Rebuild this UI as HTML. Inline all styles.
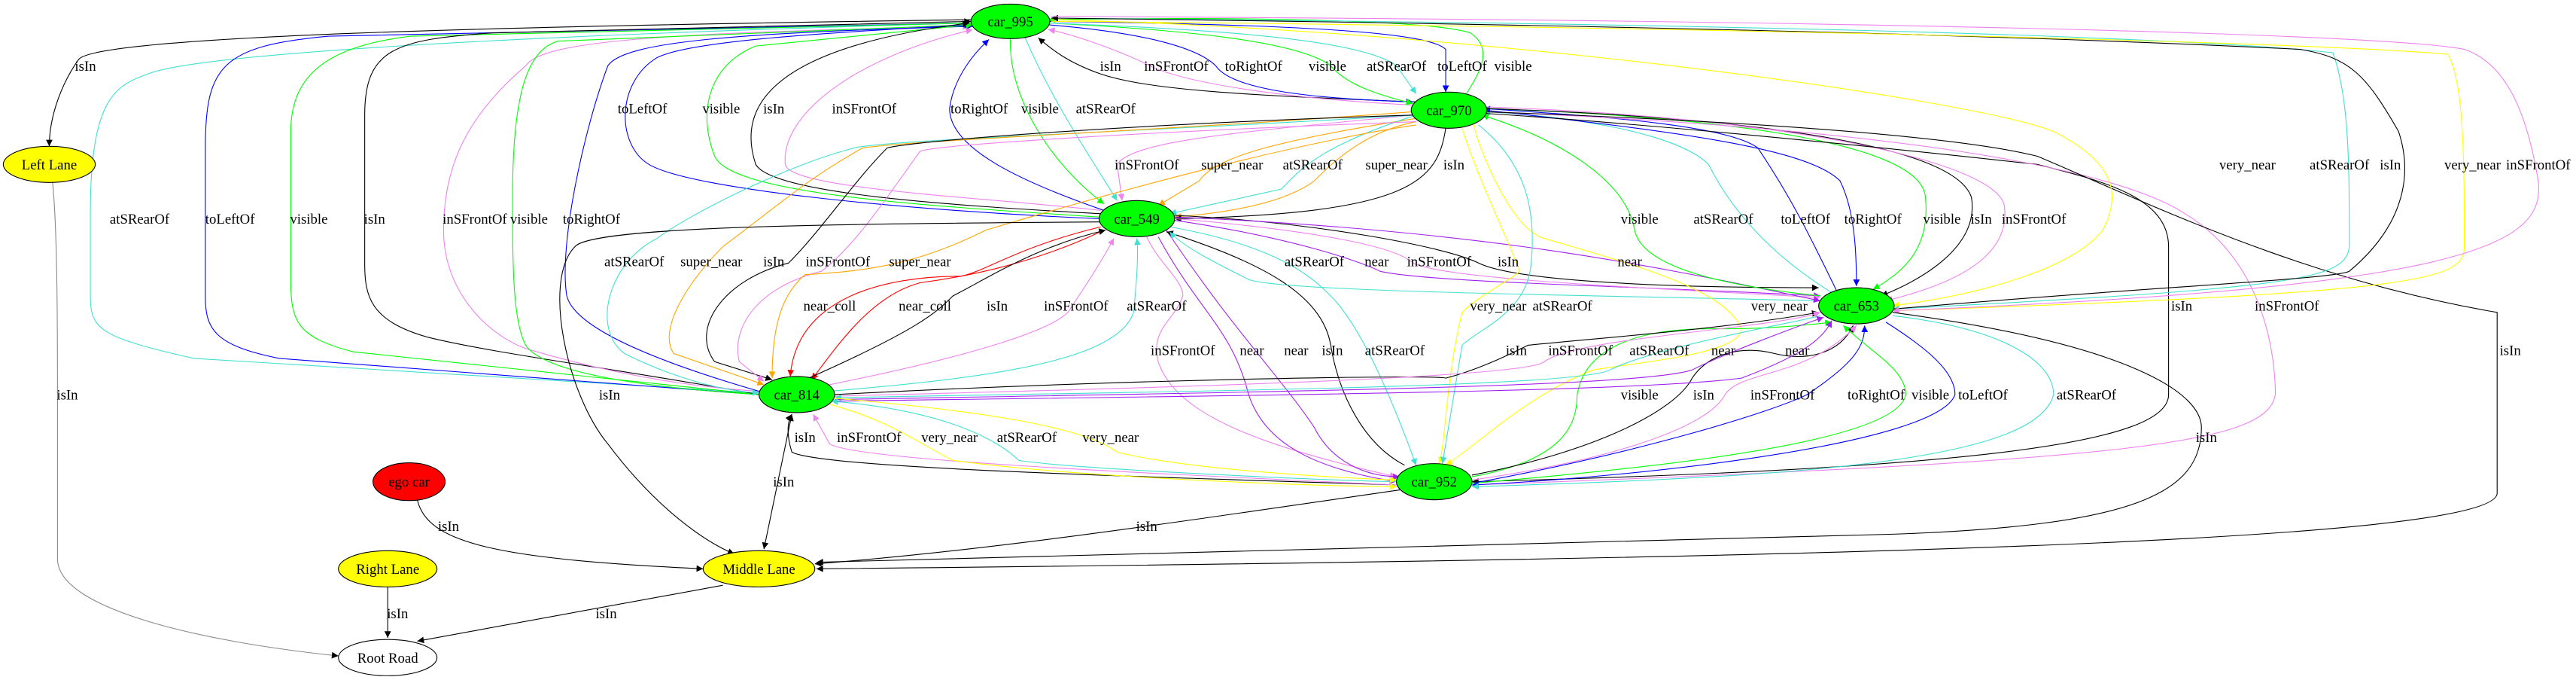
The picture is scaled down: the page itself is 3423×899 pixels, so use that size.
<!DOCTYPE html>
<html><head><meta charset="utf-8"><style>
html,body{margin:0;padding:0;background:#fff;}
svg{display:block;}
path{fill:none;stroke-width:0.5;}
.k{stroke:#000;marker-end:url(#mk)}
.c{stroke:#40e0d0;marker-end:url(#mc)}
.b{stroke:#0000ff;marker-end:url(#mb)}
.g{stroke:#00ff00;marker-end:url(#mg)}
.v{stroke:#ee82ee;marker-end:url(#mv)}
.o{stroke:#ffa500;marker-end:url(#mo)}
.p{stroke:#a020f0;marker-end:url(#mp)}
.y{stroke:#ffff00;marker-end:url(#my)}
.r{stroke:#ff0000;marker-end:url(#mr)}
text{font-family:"Liberation Serif",serif;font-size:8.6px;text-anchor:middle;fill:#000;}
ellipse{stroke:#000;stroke-width:0.5;}
</style></head><body>
<svg width="3423" height="899" viewBox="0 0 1568 411.8" preserveAspectRatio="none" xmlns="http://www.w3.org/2000/svg">
<defs>
<marker id="mk" viewBox="0 0 10 10" refX="10" refY="5" markerWidth="5" markerHeight="4" markerUnits="userSpaceOnUse" orient="auto"><path d="M0,0L10,5L0,10z" style="fill:#000;stroke:none"/></marker>
<marker id="mc" viewBox="0 0 10 10" refX="10" refY="5" markerWidth="5" markerHeight="4" markerUnits="userSpaceOnUse" orient="auto"><path d="M0,0L10,5L0,10z" style="fill:#40e0d0;stroke:none"/></marker>
<marker id="mb" viewBox="0 0 10 10" refX="10" refY="5" markerWidth="5" markerHeight="4" markerUnits="userSpaceOnUse" orient="auto"><path d="M0,0L10,5L0,10z" style="fill:#0000ff;stroke:none"/></marker>
<marker id="mg" viewBox="0 0 10 10" refX="10" refY="5" markerWidth="5" markerHeight="4" markerUnits="userSpaceOnUse" orient="auto"><path d="M0,0L10,5L0,10z" style="fill:#00ff00;stroke:none"/></marker>
<marker id="mv" viewBox="0 0 10 10" refX="10" refY="5" markerWidth="5" markerHeight="4" markerUnits="userSpaceOnUse" orient="auto"><path d="M0,0L10,5L0,10z" style="fill:#ee82ee;stroke:none"/></marker>
<marker id="mo" viewBox="0 0 10 10" refX="10" refY="5" markerWidth="5" markerHeight="4" markerUnits="userSpaceOnUse" orient="auto"><path d="M0,0L10,5L0,10z" style="fill:#ffa500;stroke:none"/></marker>
<marker id="mp" viewBox="0 0 10 10" refX="10" refY="5" markerWidth="5" markerHeight="4" markerUnits="userSpaceOnUse" orient="auto"><path d="M0,0L10,5L0,10z" style="fill:#a020f0;stroke:none"/></marker>
<marker id="my" viewBox="0 0 10 10" refX="10" refY="5" markerWidth="5" markerHeight="4" markerUnits="userSpaceOnUse" orient="auto"><path d="M0,0L10,5L0,10z" style="fill:#ffff00;stroke:none"/></marker>
<marker id="mr" viewBox="0 0 10 10" refX="10" refY="5" markerWidth="5" markerHeight="4" markerUnits="userSpaceOnUse" orient="auto"><path d="M0,0L10,5L0,10z" style="fill:#ff0000;stroke:none"/></marker>
<marker id="mks" viewBox="0 0 10 10" refX="0" refY="5" markerWidth="5" markerHeight="4" markerUnits="userSpaceOnUse" orient="auto"><path d="M10,0L0,5L10,10z" style="fill:#000;stroke:none"/></marker>
</defs>

<!-- Left lane / root -->
<path class="k" d="M591,12 C300,16 60,22 48,36 C38,50 30,70 30,89"/>
<path class="k" style="stroke:#888" d="M32,111 C35,140 35,200 35,250 L35,340 C35,370 120,390 206,399"/>

<!-- outer loops 814 -> 995 -->
<path class="c" d="M462,239 L118,218 C60,205 55,200 55,180 L55,130 C55,60 70,52 90,45 C120,33 300,22 591,14"/>
<path class="b" d="M462,240 L170,218 C130,210 125,200 125,180 L125,90 C125,40 135,28 200,22 L591,14"/>
<path class="g" d="M462,240 L215,214 C180,205 177,195 177,170 L177,80 C177,45 200,28 250,22 L591,14"/>
<path class="k" d="M462,240 C380,225 300,215 260,205 C225,195 222,180 222,160 L222,70 C222,30 240,24 300,20 L591,13"/>
<path class="v" d="M462,238 C430,236 380,230 320,212 C300,205 270,180 270,140 C270,100 285,70 320,40 C330,25 400,20 590,16"/>
<path class="g" d="M462,240 C380,235 330,225 320,210 C312,195 312,160 312,120 C312,60 320,30 340,25 L591,15"/>
<path class="b" d="M462,238 C400,220 350,200 345,180 C340,150 355,80 370,40 C380,25 450,20 592,16"/>

<!-- 549 -> 995 -->
<path class="b" d="M669,133 C550,128 420,115 395,100 C375,88 375,50 400,35 C420,25 500,20 591,15"/>
<path class="g" d="M669,132 C560,125 445,118 435,95 C425,70 430,40 460,28 L592,15"/>
<path class="k" d="M670,130 C580,125 470,118 460,100 C450,70 460,30 590,14"/>
<path class="v" d="M670,128 C600,120 480,115 478,100 C475,70 520,35 592,18"/>
<path class="b" d="M672,128 C620,110 578,90 578,66 C580,50 590,35 602,24"/>
<path class="g" d="M615,24 C614,60 640,100 672,124"/>
<path class="c" d="M624,23 C640,60 660,90 680,122"/>

<!-- 970 <-> 995 -->
<path class="k" d="M862,62 C760,58 700,55 670,45 C650,38 640,30 632,23"/>
<path class="v" d="M862,64 C780,60 720,50 700,40 C680,30 650,20 638,18"/>
<path class="b" d="M637,15 C700,20 730,30 740,40 C750,55 800,60 860,62"/>
<path class="g" d="M637,14 C720,18 790,25 810,40 C820,52 840,58 860,63"/>
<path class="c" d="M637,14 C750,18 830,25 850,40 L862,57"/>
<path class="b" d="M637,13 C800,15 870,20 880,30 L880,56"/>
<path class="g" d="M892,58 C900,45 910,30 895,20 C870,12 750,10 638,12"/>

<!-- 970 -> 549 -->
<path class="v" d="M860,70 C760,80 690,85 680,100 L683,122"/>
<path class="o" d="M862,72 C780,85 740,95 730,110 L705,125"/>
<path class="c" d="M862,70 C800,90 790,105 780,115 L712,130"/>
<path class="o" d="M862,74 C830,80 810,100 800,110 C780,125 740,130 715,132"/>
<path class="k" d="M880,78 C875,110 860,130 715,133"/>

<!-- 970 -> 814 long -->
<path class="c" d="M860,70 C700,80 540,85 520,90 C480,100 420,130 400,145 C370,160 360,200 380,215 C410,230 440,238 462,239"/>
<path class="o" d="M860,68 C700,80 560,85 525,90 C490,110 480,120 440,150 C420,170 400,200 410,215 L465,234"/>
<path class="k" d="M860,70 C700,75 560,85 540,90 C520,110 500,140 480,160 C440,170 420,200 435,220 L470,231"/>
<path class="v" d="M862,74 C700,80 570,88 560,92 C540,120 520,150 500,165 C460,175 445,200 450,220 L465,232"/>
<path class="o" d="M862,76 C800,85 700,110 600,140 C560,160 530,165 490,167 C475,180 470,200 470,230"/>
<path class="k" d="M670,135 C500,136 360,138 350,150 C330,170 345,240 370,270 C400,310 430,330 447,337"/>

<!-- 814 <-> 549 -->
<path class="r" d="M670,138 C620,150 600,165 585,168 C540,168 485,180 481,229"/>
<path class="r" d="M672,140 C630,160 590,168 560,172 C530,180 510,210 494,231"/>
<path class="k" d="M490,231 C560,200 570,190 580,180 C600,170 630,150 673,140"/>
<path class="v" d="M500,235 C600,215 640,200 650,190 C660,175 670,160 678,145"/>
<path class="c" d="M505,238 C600,230 680,220 690,190 C692,170 693,155 692,145"/>

<!-- 549 <-> 952 -->
<path class="v" d="M698,144 C705,160 720,170 720,180 C715,195 700,200 705,220 C715,250 760,270 850,290"/>
<path class="p" d="M705,144 C730,190 750,200 760,240 C770,270 800,285 850,293"/>
<path class="p" d="M710,140 C750,200 780,230 800,260 C810,280 830,290 852,290"/>
<path class="k" d="M855,283 C830,270 815,240 810,210 C805,180 770,160 710,141"/>
<path class="c" d="M712,138 C780,150 800,170 810,180 C830,200 850,250 862,283"/>

<!-- 549 <-> 653 -->
<path class="k" d="M715,131 C800,135 880,150 900,160 C920,170 1000,175 1107,175"/>
<path class="p" d="M715,134 C790,145 830,160 840,165 C870,172 1000,174 1108,180"/>
<path class="v" d="M715,133 C800,140 850,150 860,160 C880,170 1000,175 1108,181"/>
<path class="c" d="M1108,183 C1000,180 780,178 760,170 C740,160 720,150 712,141"/>
<path class="p" d="M715,132 C900,140 1000,160 1108,183"/>

<!-- 653 <-> 970 -->
<path class="g" d="M1108,180 C1060,175 1000,165 995,140 C990,110 950,85 902,70"/>
<path class="c" d="M1115,178 C1070,150 1050,120 1040,100 C1020,80 950,70 903,68"/>
<path class="b" d="M1118,177 C1100,140 1090,120 1070,90 C1050,75 960,70 903,66"/>
<path class="b" d="M904,67 C1020,80 1100,90 1120,110 C1130,130 1130,160 1130,174"/>
<path class="g" d="M904,66 C1070,72 1170,90 1172,120 C1175,150 1160,165 1140,176"/>
<path class="k" d="M904,66 C1080,72 1190,90 1200,120 C1205,150 1170,170 1145,180"/>
<path class="v" d="M904,65 C1100,72 1215,100 1220,125 C1225,160 1180,175 1148,183"/>

<!-- 970 <-> 952 -->
<path class="y" d="M890,78 C900,110 920,150 925,165 C920,170 900,180 890,190 C880,230 880,270 876,282"/>
<path class="y" d="M897,76 C900,90 920,140 940,145 C990,160 1050,175 1060,200 C1060,215 1000,220 970,225 C930,240 900,270 880,283"/>
<path class="c" d="M900,76 C930,100 935,130 932,160 C930,190 900,200 890,210 L878,282"/>
<path class="k" d="M904,69 C1000,75 1150,90 1240,100 C1280,110 1320,120 1320,150 L1320,240 C1320,270 1200,285 896,293"/>
<path class="v" d="M904,68 C1200,80 1300,110 1330,130 C1380,160 1385,220 1385,240 C1380,270 1300,280 896,295"/>
<path class="k" d="M904,68 C1100,75 1200,85 1240,95 C1300,120 1400,170 1520,190 L1520,300 C1520,330 1100,340 497,346"/>

<!-- 653 <-> 995 long -->
<path class="y" d="M640,12 C900,18 1200,60 1250,80 C1290,100 1290,120 1280,140 C1260,165 1200,180 1152,186"/>
<path class="c" d="M640,11 C1000,14 1300,20 1420,32 C1430,60 1430,100 1430,150 C1428,170 1400,175 1152,188"/>
<path class="k" d="M1152,188 C1300,175 1420,170 1430,165 C1460,140 1470,110 1460,80 C1440,45 1430,35 1400,30 C1200,20 900,14 640,11"/>
<path class="y" d="M640,13 C1000,16 1400,25 1490,33 C1500,50 1500,100 1500,150 C1500,170 1480,178 1152,189"/>
<path class="v" d="M640,10 C1100,12 1450,20 1500,30 C1530,40 1540,80 1545,110 C1550,150 1500,175 1152,189"/>
<path class="k" d="M1152,190 C1300,210 1340,240 1340,260 C1340,300 1300,320 1150,325 L497,342"/>

<!-- 653 <-> 952 -->
<path class="g" d="M896,290 C950,280 960,260 960,240 C965,210 1000,200 1040,200 C1060,200 1080,200 1115,196"/>
<path class="k" d="M896,289 C970,275 1020,250 1030,230 C1040,215 1060,210 1080,215 C1100,220 1120,215 1128,198"/>
<path class="v" d="M896,292 C980,280 1040,260 1050,240 C1060,225 1100,230 1130,198"/>
<path class="b" d="M896,294 C1000,275 1080,250 1100,240 C1130,220 1135,210 1135,198"/>
<path class="g" d="M896,294 C1000,285 1155,270 1160,240 C1160,225 1140,215 1122,198"/>
<path class="b" d="M1148,196 C1170,210 1190,225 1190,240 C1180,270 1000,290 896,295"/>
<path class="c" d="M1152,192 C1220,200 1250,220 1250,240 C1240,280 1100,290 896,296"/>

<!-- 814 <-> 653 -->
<path class="k" d="M508,240 C700,230 880,228 880,230 C900,225 920,215 930,210 C980,205 1050,200 1107,190"/>
<path class="v" d="M508,241 C700,236 930,230 940,220 C960,205 1080,200 1108,190"/>
<path class="c" d="M1108,192 C1100,195 1010,210 980,225 C960,236 700,238 508,242"/>
<path class="p" d="M508,243 C800,238 1000,235 1030,225 C1050,215 1090,200 1110,193"/>
<path class="p" d="M508,244 C800,240 1000,238 1060,230 C1100,215 1110,205 1115,195"/>

<!-- 952 <-> 814 -->
<path class="k" d="M850,295 C700,290 500,285 482,275 C478,262 480,255 482,252"/>
<path class="v" d="M850,295 C700,288 520,280 505,270 L495,252"/>
<path class="y" d="M505,246 C540,255 560,270 580,280 C650,290 800,296 850,296"/>
<path class="c" d="M850,293 C800,292 650,285 620,280 C610,270 580,250 506,244"/>
<path class="y" d="M505,242 C600,250 660,260 680,275 C720,285 800,290 850,292"/>

<!-- lane edges -->
<path class="k" style="marker-start:url(#mks)" d="M482,252 L465,334"/>
<path class="k" d="M254,304 C260,330 300,340 428,346"/>
<path class="k" d="M236,357 L236,388"/>
<path class="k" d="M440,356 L254,390"/>
<path class="k" d="M852,298 C700,320 600,335 496,343"/>

<!-- nodes -->
<ellipse cx="615" cy="13" rx="24" ry="10.5" fill="#00ff00"/><text x="615" y="16">car_995</text>
<ellipse cx="30" cy="100" rx="28" ry="11" fill="#ffff00"/><text x="30" y="103">Left Lane</text>
<ellipse cx="692" cy="133" rx="23" ry="11" fill="#00ff00"/><text x="692" y="136">car_549</text>
<ellipse cx="485" cy="240" rx="23" ry="11" fill="#00ff00"/><text x="485" y="243">car_814</text>
<ellipse cx="249" cy="293" rx="22" ry="11.5" fill="#ff0000"/><text x="249" y="296">ego car</text>
<ellipse cx="236" cy="346" rx="30" ry="11" fill="#ffff00"/><text x="236" y="349">Right Lane</text>
<ellipse cx="462" cy="346" rx="34" ry="11" fill="#ffff00"/><text x="462" y="349">Middle Lane</text>
<ellipse cx="236" cy="400" rx="30" ry="11" fill="#fff"/><text x="236" y="403">Root Road</text>
<ellipse cx="882" cy="67" rx="23" ry="11" fill="#00ff00"/><text x="882" y="70">car_970</text>
<ellipse cx="1130" cy="186" rx="23" ry="11" fill="#00ff00"/><text x="1130" y="189">car_653</text>
<ellipse cx="873" cy="293" rx="23" ry="11" fill="#00ff00"/><text x="873" y="296">car_952</text>

<!-- labels -->
<text x="52" y="43">isIn</text>
<text x="85" y="136">atSRearOf</text><text x="140" y="136">toLeftOf</text><text x="188" y="136">visible</text><text x="228" y="136">isIn</text><text x="289" y="136">inSFrontOf</text><text x="322" y="136">visible</text><text x="360" y="136">toRightOf</text>
<text x="391" y="69">toLeftOf</text><text x="439" y="69">visible</text><text x="471" y="69">isIn</text><text x="526" y="69">inSFrontOf</text><text x="596" y="69">toRightOf</text><text x="633" y="69">visible</text><text x="673" y="69">atSRearOf</text>
<text x="676" y="43">isIn</text><text x="716" y="43">inSFrontOf</text><text x="763" y="43">toRightOf</text><text x="808" y="43">visible</text><text x="850" y="43">atSRearOf</text><text x="890" y="43">toLeftOf</text><text x="921" y="43">visible</text>
<text x="698" y="103">inSFrontOf</text><text x="750" y="103">super_near</text><text x="799" y="103">atSRearOf</text><text x="850" y="103">super_near</text><text x="885" y="103">isIn</text>
<text x="1368" y="103">very_near</text><text x="1424" y="103">atSRearOf</text><text x="1455" y="103">isIn</text><text x="1505" y="103">very_near</text><text x="1545" y="103">inSFrontOf</text>
<text x="998" y="136">visible</text><text x="1049" y="136">atSRearOf</text><text x="1099" y="136">toLeftOf</text><text x="1140" y="136">toRightOf</text><text x="1182" y="136">visible</text><text x="1206" y="136">isIn</text><text x="1238" y="136">inSFrontOf</text>
<text x="386" y="162">atSRearOf</text><text x="433" y="162">super_near</text><text x="471" y="162">isIn</text><text x="510" y="162">inSFrontOf</text><text x="560" y="162">super_near</text>
<text x="800" y="162">atSRearOf</text><text x="838" y="162">near</text><text x="876" y="162">inSFrontOf</text><text x="918" y="162">isIn</text><text x="992" y="162">near</text>
<text x="505" y="189">near_coll</text><text x="563" y="189">near_coll</text><text x="607" y="189">isIn</text><text x="655" y="189">inSFrontOf</text><text x="704" y="189">atSRearOf</text>
<text x="912" y="189">very_near</text><text x="951" y="189">atSRearOf</text><text x="1083" y="189">very_near</text><text x="1328" y="189">isIn</text><text x="1392" y="189">inSFrontOf</text>
<text x="720" y="216">inSFrontOf</text><text x="762" y="216">near</text><text x="789" y="216">near</text><text x="811" y="216">isIn</text><text x="849" y="216">atSRearOf</text><text x="923" y="216">isIn</text><text x="962" y="216">inSFrontOf</text><text x="1010" y="216">atSRearOf</text><text x="1049" y="216">near</text><text x="1094" y="216">near</text><text x="1528" y="216">isIn</text>
<text x="41" y="243">isIn</text><text x="371" y="243">isIn</text>
<text x="998" y="243">visible</text><text x="1037" y="243">isIn</text><text x="1085" y="243">inSFrontOf</text><text x="1142" y="243">toRightOf</text><text x="1175" y="243">visible</text><text x="1207" y="243">toLeftOf</text><text x="1270" y="243">atSRearOf</text>
<text x="490" y="269">isIn</text><text x="529" y="269">inSFrontOf</text><text x="578" y="269">very_near</text><text x="625" y="269">atSRearOf</text><text x="676" y="269">very_near</text><text x="1343" y="269">isIn</text>
<text x="477" y="296">isIn</text>
<text x="273" y="323">isIn</text><text x="698" y="323">isIn</text>
<text x="242" y="376">isIn</text><text x="369" y="376">isIn</text>
</svg>
</body></html>
